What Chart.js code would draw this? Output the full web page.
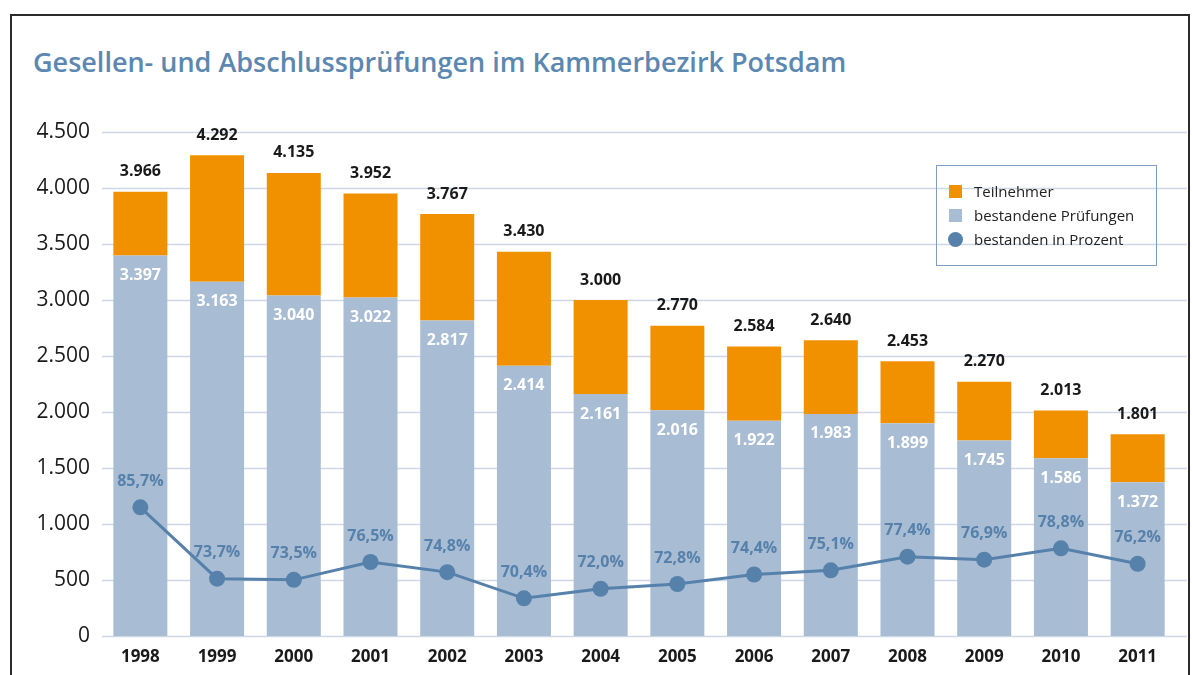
<!DOCTYPE html>
<html lang="de">
<head>
<meta charset="utf-8">
<script src="https://cdn.jsdelivr.net/npm/chart.js@4.4.1/dist/chart.umd.min.js"></script>
<style>
  html, body { margin: 0; padding: 0; background: #fff; }
  #wrap { position: relative; width: 1193px; height: 675px; overflow: hidden; font-family: "Open Sans", sans-serif; }
  #frame { position: absolute; left: 10px; top: 14px; width: 1180px; height: 700px; border: 2px solid #2b2b2b; border-bottom: none; box-sizing: border-box; }
  #title { position: absolute; left: 33px; top: 44px; margin: 0; font: 600 27px/36px "Open Sans", sans-serif; color: #5b87b0; white-space: nowrap; }
  #chart { position: absolute; left: 0; top: 0; }
  #legend { position: absolute; left: 936px; top: 165px; width: 221px; height: 101px; border: 1px solid #7d9dc1; box-sizing: border-box; padding-top: 13px; }
  .item { display: flex; align-items: center; height: 24px; font-size: 15px; color: #222; }
  .sw { width: 13px; height: 13px; margin: 0 12px 0 12px; }
  .dot { border-radius: 50%; width: 15px; height: 15px; margin: 0 11px 0 11px; }
</style>
</head>
<body>
<div id="wrap">
  <div id="frame"></div>
  <h1 id="title">Gesellen- und Abschlussprüfungen im Kammerbezirk Potsdam</h1>
  <canvas id="chart" width="1193" height="675"></canvas>
  <div id="legend"></div>
</div>
<script>
const years = ['1998', '1999', '2000', '2001', '2002', '2003', '2004', '2005', '2006', '2007', '2008', '2009', '2010', '2011'];
const teilnehmer = [3966, 4292, 4135, 3952, 3767, 3430, 3000, 2770, 2584, 2640, 2453, 2270, 2013, 1801];
const bestanden = [3397, 3163, 3040, 3022, 2817, 2414, 2161, 2016, 1922, 1983, 1899, 1745, 1586, 1372];
const prozent = [85.7, 73.7, 73.5, 76.5, 74.8, 70.4, 72.0, 72.8, 74.4, 75.1, 77.4, 76.9, 78.8, 76.2];
const yTicks = [0, 500, 1000, 1500, 2000, 2500, 3000, 3500, 4000, 4500];

const ORANGE = '#f29100';
const LIGHT = '#a8bcd3';
const BLUE = '#5681ab';

const fmtDe = (n) => String(n).replace(/\B(?=(\d{3})+(?!\d))/g, '.');
const fmtPct = (p) => p.toFixed(1).replace('.', ',') + '%';

// horizontal grid lines run a bit past the plot area, up to the frame
const gridLines = {
  id: 'gridLines',
  beforeDatasetsDraw(chart) {
    const { ctx, chartArea, scales } = chart;
    ctx.save();
    ctx.strokeStyle = '#cdd8e6';
    ctx.lineWidth = 1.5;
    yTicks.forEach((v) => {
      const y = Math.round(scales.y.getPixelForValue(v)) + 0.5;
      ctx.beginPath();
      ctx.moveTo(chartArea.left, y);
      ctx.lineTo(1187, y);
      ctx.stroke();
    });
    ctx.restore();
  },
};

const valueLabels = {
  id: 'valueLabels',
  afterDatasetsDraw(chart) {
    const ctx = chart.ctx;
    ctx.save();
    ctx.textAlign = 'center';
    ctx.textBaseline = 'middle';
    ctx.font = 'bold 16px "Open Sans", sans-serif';
    chart.data.datasets.forEach((ds, i) => {
      const meta = chart.getDatasetMeta(i);
      meta.data.forEach((el, j) => {
        if (ds.key === 'total') {
          ctx.fillStyle = '#1a1a1a';
          ctx.fillText(fmtDe(teilnehmer[j]), el.x, el.y - 20);
        } else if (ds.key === 'passed') {
          ctx.fillStyle = '#ffffff';
          ctx.fillText(fmtDe(bestanden[j]), el.x, el.y + 20);
        } else {
          ctx.fillStyle = BLUE;
          ctx.fillText(fmtPct(prozent[j]), el.x, el.y - 26);
        }
      });
    });
    ctx.restore();
  },
};

const chart = new Chart(document.getElementById('chart'), {
  data: {
    labels: years,
    datasets: [
      { key: 'rate', type: 'line', label: 'bestanden in Prozent', data: prozent, yAxisID: 'y1',
        borderColor: BLUE, backgroundColor: BLUE, borderWidth: 3, pointRadius: 8, pointHoverRadius: 8,
        pointBackgroundColor: BLUE, pointBorderWidth: 0, tension: 0 },
      { key: 'passed', type: 'bar', label: 'bestandene Prüfungen', data: bestanden, yAxisID: 'y',
        backgroundColor: LIGHT, barPercentage: 0.704, categoryPercentage: 1 },
      // orange part spans from the passed count up to the total
      { key: 'total', type: 'bar', label: 'Teilnehmer', data: teilnehmer.map((t, i) => [bestanden[i], t]), yAxisID: 'y',
        backgroundColor: ORANGE, barPercentage: 0.704, categoryPercentage: 1 },
    ],
  },
  options: {
    responsive: false,
    animation: false,
    layout: { padding: { top: 132, right: 17, bottom: 0, left: 0 } },
    plugins: { legend: { display: false }, tooltip: { enabled: false }, title: { display: false } },
    scales: {
      x: {
        stacked: true,
        grid: { display: false, drawTicks: false },
        border: { display: false },
        ticks: { color: '#1a1a1a', font: { family: '"Open Sans", sans-serif', size: 17, weight: 'bold' }, padding: 11 },
        afterFit: (s) => { s.height = 39; },
      },
      y: {
        stacked: false,
        min: 0, max: 4500,
        grid: { display: false, drawTicks: false },
        border: { display: false },
        ticks: { stepSize: 500, color: '#1a1a1a', padding: 12,
          font: { family: '"Open Sans", sans-serif', size: 21 },
          callback: (v) => fmtDe(v) },
        afterFit: (s) => { s.width = 102; },
      },
      y1: { display: false, min: 64.06, max: 148.81 },
    },
  },
  plugins: [gridLines, valueLabels],
});

// legend built from the datasets
const legendOrder = ['total', 'passed', 'rate'];
const legend = document.getElementById('legend');
legendOrder.forEach((k) => {
  const ds = chart.data.datasets.find((d) => d.key === k);
  const row = document.createElement('div');
  row.className = 'item';
  const sw = document.createElement('span');
  sw.className = k === 'rate' ? 'dot' : 'sw';
  sw.style.background = ds.backgroundColor;
  row.appendChild(sw);
  row.appendChild(document.createTextNode(ds.label));
  legend.appendChild(row);
});
</script>
</body>
</html>
